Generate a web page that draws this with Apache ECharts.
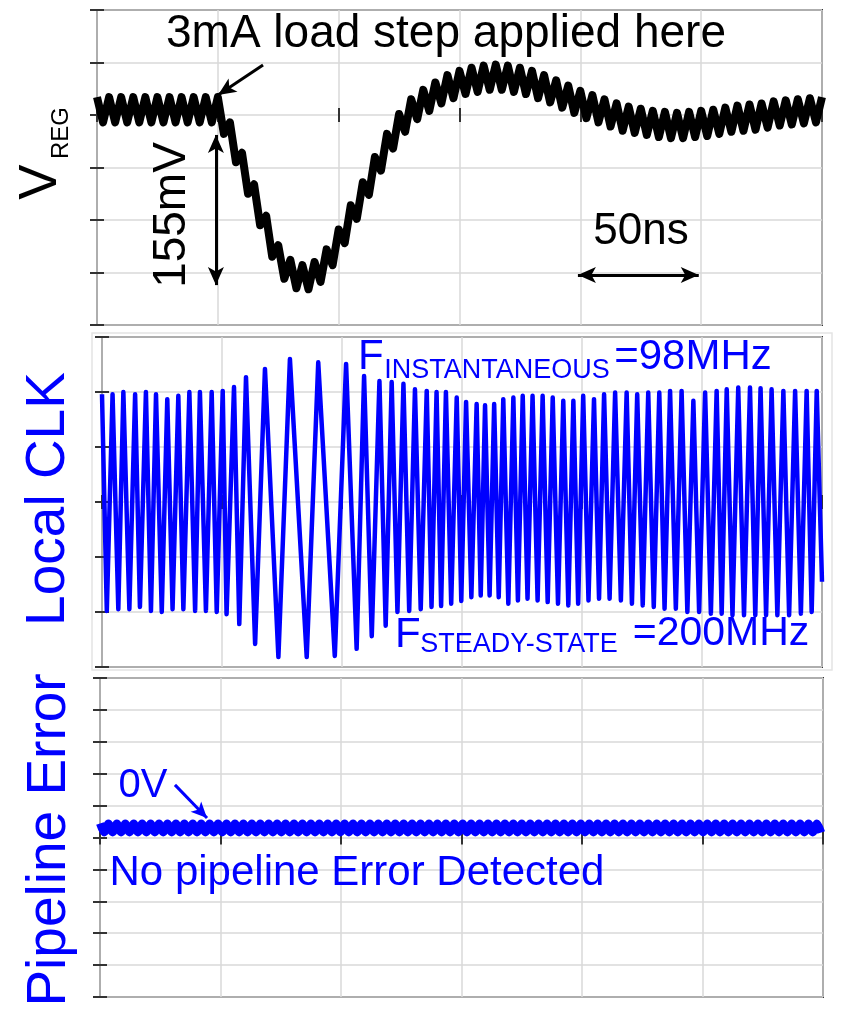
<!DOCTYPE html>
<html>
<head>
<meta charset="utf-8">
<script src="https://cdn.jsdelivr.net/npm/echarts@6/dist/echarts.min.js"></script>
<style>
  html, body { margin: 0; padding: 0; background: #fff; }
  #main { width: 841px; height: 1019px; }
</style>
</head>
<body>
<div id="main"></div>
<script>
// time axis, ns (50ns per division)
var timeMin = 0, timeMax = 300, timeStep = 50;

// VREG: centre of the ripple band (mV), one reading every 2.5ns from t=0
var vregDt = 2.5;
var vregMean = [5, 5, 5, 5, 5, 5, 5, 5, 5, 5, 5, 5, 5, 5, 5, 5, 5, 5, 5, 5, 5,
  -6, -19, -33, -48, -63, -78, -93, -108, -123, -136,
  -144, -150, -153, -155, -154, -152, -147, -140, -131, -121,
  -110, -98, -87, -76, -64, -52, -41, -30, -20, -11,
  -4, 3, 8, 12, 16, 19, 23, 26, 28, 30,
  32, 33, 34, 35, 36, 36, 36, 35, 34, 33,
  32, 30, 28, 26, 24, 21, 19, 16, 14, 11,
  9, 7, 5, 3, 1, -1, -3, -4, -5, -6,
  -7, -8, -9, -9, -10, -10, -10, -9, -9, -8,
  -8, -7, -6, -5, -4, -3, -3, -2, -2, -1,
  0, 1, 2, 2, 3, 3, 4, 4, 5, 5];
var vregRipple = 12; // half of the ripple peak-to-peak, mV

// Local CLK: tops and bottoms of each cycle (ns, div)
var clkTopT = [0, 4.4, 8.9, 13.8, 18.3, 22.5, 27.2, 31.8, 36.4, 40.8, 45.7, 50.3, 55, 60, 67.9, 78.3, 90.1, 101.7, 109.2, 115.6,
  120.7, 125.6, 130.4, 135.3, 139.4, 143.3, 147.8, 151.7, 156.1, 159.6, 163.4, 167.2, 171.4, 175.3, 179.4, 183.6, 187.8, 192.2, 196.4, 200.5,
  205, 209.2, 213.8, 218.6, 223, 227.6, 232.2, 236.7, 241.5, 246.4, 251.3, 256.1, 260.3, 265.1, 270, 274.4, 279, 283.9, 288.8, 293.6, 297.8];
var clkTopV = [1.96, 1.96, 2.0, 1.96, 2.0, 1.96, 1.87, 1.93, 2.0, 2.0, 2.0, 2.02, 2.09, 2.27, 2.42, 2.6, 2.54, 2.51, 2.29, 2.2,
  2.18, 2.15, 2.05, 2.02, 2.0, 2.0, 1.9, 1.82, 1.78, 1.76, 1.78, 1.87, 1.9, 1.93, 1.93, 1.93, 1.9, 1.84, 1.84, 1.93,
  1.87, 1.96, 1.99, 1.99, 1.96, 1.99, 1.99, 2.02, 2.02, 1.84, 1.99, 2.02, 2.05, 2.08, 2.08, 2.07, 2.05, 2.02, 2.02, 2.02, 2.02];
var clkBotT = [2.0, 6.8, 11.4, 15.8, 20.4, 24.9, 29.4, 33.9, 38.8, 43.3, 47.8, 51.9, 57.2, 63.8, 73.5, 85.3, 97, 106.1, 112.4, 118.2,
  123.1, 128, 132.8, 137.3, 141.3, 145.5, 149.7, 153.9, 157.8, 161.5, 165.3, 169.3, 173.3, 177.3, 181.5, 185.7, 190, 194.3, 198.4, 202.7,
  207.1, 211.5, 216.2, 220.8, 225.3, 229.9, 234.4, 239.1, 243.9, 248.8, 253.7, 258.2, 262.7, 267.5, 272.2, 276.7, 281.4, 286.3, 291.2, 295.7, 300];
var clkBotV = [-1.98, -1.95, -1.95, -1.91, -1.98, -2.0, -1.95, -1.95, -1.98, -1.98, -2.0, -2.04, -2.22, -2.58, -2.82, -2.82, -2.8, -2.67, -2.44, -2.25,
  -2.0, -1.98, -1.95, -1.91, -1.89, -1.85, -1.8, -1.73, -1.7, -1.7, -1.73, -1.85, -1.79, -1.76, -1.79, -1.82, -1.85, -1.88, -1.85, -1.79,
  -1.76, -1.76, -1.79, -1.85, -1.88, -1.91, -1.94, -1.94, -2.0, -2.0, -2.03, -2.03, -2.06, -2.06, -2.06, -2.06, -2.06, -2.06, -2.03, -2.0, -1.45];

// Pipeline error: flat line with a small ripple (div)
var pipeLevel = 0.3;
var pipeRipple = 0.14;
var pipeHalfPeriod = 1.75; // ns

var blue = '#0000ff';
var font = '"Liberation Sans", Arial, Helvetica, sans-serif';

// build the plotted tables: ripple alternates up/down on each reading
var vregData = vregMean.map(function (m, i) {
  return [i * vregDt, m + (i % 2 ? -vregRipple : vregRipple)];
});

var clkData = [];
for (var i = 0; i < clkTopT.length; i++) clkData.push([clkTopT[i], clkTopV[i]]);
for (var i = 0; i < clkBotT.length; i++) clkData.push([clkBotT[i], clkBotV[i]]);
clkData.sort(function (a, b) { return a[0] - b[0]; });

var pipeData = [];
var k = 0;
for (var t = timeMin; t <= timeMax + 0.001; t += pipeHalfPeriod) {
  pipeData.push([t, pipeLevel + (k % 2 ? -pipeRipple : pipeRipple)]);
  k++;
}

var grids = [
  { left: 97, top: 10, width: 725, height: 315, yMin: -200, yMax: 100, yInt: 50 },
  { left: 102, top: 337, width: 720, height: 330, yMin: -3, yMax: 3, yInt: 1 },
  { left: 100, top: 678, width: 723, height: 319, yMin: -5, yMax: 5, yInt: 1 }
];

var tick = { show: true, inside: true, length: 7, lineStyle: { color: '#333', width: 2 } };
var xAxes = [], yAxes = [];
grids.forEach(function (g, gi) {
  xAxes.push({ gridIndex: gi, type: 'value', min: timeMin, max: timeMax, interval: timeStep, position: 'bottom',
    axisLine: { show: false }, axisTick: tick, axisLabel: { show: false },
    splitLine: { show: true, lineStyle: { color: '#d9d9d9', width: 1.5 } } });
  xAxes.push({ gridIndex: gi, type: 'value', min: timeMin, max: timeMax, interval: timeStep, position: 'top',
    axisLine: { show: false }, axisTick: tick, axisLabel: { show: false }, splitLine: { show: false } });
  yAxes.push({ gridIndex: gi, type: 'value', min: g.yMin, max: g.yMax, interval: g.yInt, position: 'left',
    axisLine: { show: false }, axisTick: tick, axisLabel: { show: false },
    splitLine: { show: true, lineStyle: { color: '#d9d9d9', width: 1.5 } } });
  yAxes.push({ gridIndex: gi, type: 'value', min: g.yMin, max: g.yMax, interval: g.yInt, position: 'right',
    axisLine: { show: false }, axisTick: tick, axisLabel: { show: false }, splitLine: { show: false } });
});

function txt(text, x, y, size, color, align, rot) {
  return {
    type: 'text', x: x, y: y, rotation: rot || 0, z: 100,
    style: { text: text, fill: color, fontSize: size, fontFamily: font,
      textAlign: align || 'center', textVerticalAlign: 'middle' }
  };
}

var chart = echarts.init(document.getElementById('main'));

chart.setOption({
  animation: false,
  backgroundColor: '#fff',
  grid: grids.map(function (g) {
    return { left: g.left, top: g.top, width: g.width, height: g.height, show: true,
      borderColor: '#333', borderWidth: 2, containLabel: false, outerBoundsMode: 'none' };
  }),
  xAxis: xAxes,
  yAxis: yAxes,
  series: [
    {
      type: 'line', xAxisIndex: 0, yAxisIndex: 0, data: vregData, showSymbol: false,
      lineStyle: { color: '#000', width: 8, join: 'round' },
      markLine: {
        silent: true, animation: false, label: { show: false },
        lineStyle: { color: '#000', width: 3, type: 'solid' },
        data: [
          [{ coord: [68.7, 47.6], symbol: 'none' }, { coord: [50.1, 19], symbol: 'arrow', symbolSize: [12, 18] }],
          [{ coord: [49.2, -19], symbol: 'arrow', symbolSize: [12, 18] }, { coord: [49.2, -162], symbol: 'arrow', symbolSize: [12, 18] }],
          [{ coord: [199, -152.4], symbol: 'arrow', symbolSize: [12, 18] }, { coord: [249, -152.4], symbol: 'arrow', symbolSize: [12, 18] }]
        ]
      }
    },
    {
      type: 'line', xAxisIndex: 2, yAxisIndex: 2, data: clkData, showSymbol: false,
      lineStyle: { color: blue, width: 4.5, join: 'round' }
    },
    {
      type: 'line', xAxisIndex: 4, yAxisIndex: 4, data: pipeData, showSymbol: false, smooth: 0.3,
      lineStyle: { color: blue, width: 8, join: 'round' },
      markLine: {
        silent: true, animation: false, label: { show: false },
        lineStyle: { color: blue, width: 3, type: 'solid' },
        data: [
          [{ coord: [31.1, 1.65], symbol: 'none' }, { coord: [44.4, 0.61], symbol: 'arrow', symbolSize: [11, 16] }]
        ]
      }
    }
  ],
  graphic: [
    // faint screenshot edges around the middle panel
    { type: 'rect', shape: { x: 92, y: 333, width: 740, height: 337 }, z: 0,
      style: { fill: 'none', stroke: '#e4e4e4', lineWidth: 1.5 } },
    // axis names
    txt('V', 41, 182, 53, '#000', 'center', Math.PI / 2),
    txt('REG', 61, 133, 24, '#000', 'center', Math.PI / 2),
    txt('Local CLK', 49, 499, 55, blue, 'center', Math.PI / 2),
    txt('Pipeline Error', 50, 840, 55, blue, 'center', Math.PI / 2),
    // panel 1 notes
    txt('3mA load step applied here', 446, 34, 46, '#000'),
    txt('155mV', 172, 215, 46, '#000', 'center', Math.PI / 2),
    txt('50ns', 641, 232, 44, '#000'),
    // panel 2 notes
    txt('F', 358, 357, 42, blue, 'left'),
    txt('INSTANTANEOUS', 497, 371, 27, blue),
    txt('=98MHz', 693, 357, 42, blue),
    txt('F', 395, 635, 42, blue, 'left'),
    txt('STEADY-STATE', 519, 645, 27, blue),
    txt('=200MHz', 721, 634, 41, blue),
    // panel 3 notes
    txt('0V', 143, 786, 40, blue),
    txt('No pipeline Error Detected', 357, 873, 42, blue)
  ]
});
</script>
</body>
</html>
